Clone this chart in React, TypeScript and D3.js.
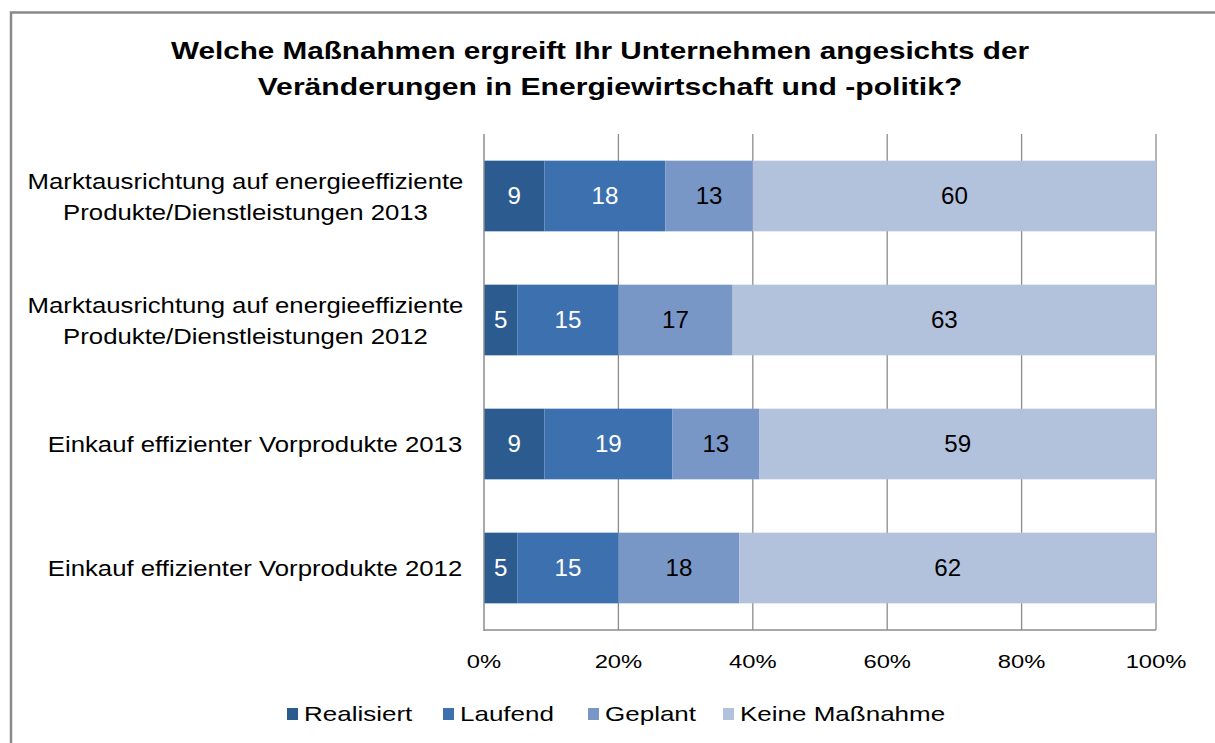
import React, { useRef, useEffect } from "react";
import * as d3 from "d3";

const categories = [
  ["Marktausrichtung auf energieeffiziente", "Produkte/Dienstleistungen 2013"],
  ["Marktausrichtung auf energieeffiziente", "Produkte/Dienstleistungen 2012"],
  ["Einkauf effizienter Vorprodukte 2013"],
  ["Einkauf effizienter Vorprodukte 2012"],
];
const seriesNames = ["Realisiert", "Laufend", "Geplant", "Keine Maßnahme"];
const realisiert = [9, 5, 9, 5];
const laufend = [18, 15, 19, 15];
const geplant = [13, 17, 13, 18];
const keine = [60, 63, 59, 62];
const ticks = [0, 20, 40, 60, 80, 100];
const colors = ["#2b5b8f", "#3d70ae", "#7897c6", "#b3c2dc"];
const labelColors = ["#fff", "#fff", "#000", "#000"];

export default function App() {
  const svgRef = useRef<SVGSVGElement>(null);

  useEffect(() => {
    const W = 1215, H = 743;
    const svg = d3.select(svgRef.current).attr("width", W).attr("height", H);
    svg.selectAll("*").remove();
    const font = "'Liberation Sans', Arial, sans-serif";

    // stretched text helper (reference text is wider than plain Arial)
    const txt = (parent: any, x: number, y: number, s: string, size: number, sx: number, anchor = "middle", fill = "#000", bold = false) =>
      parent.append("g").attr("transform", `translate(${x},${y}) scale(${sx},1)`)
        .append("text").attr("text-anchor", anchor).attr("font-family", font)
        .attr("font-size", size).attr("font-weight", bold ? "bold" : "normal")
        .attr("fill", fill).text(s);

    svg.append("rect").attr("width", W).attr("height", H).attr("fill", "#fff");
    svg.append("path").attr("d", `M11,${H + 5} V12.5 H${W + 5}`)
      .attr("fill", "none").attr("stroke", "#8a8a8a").attr("stroke-width", 2.5);

    // title
    txt(svg, 600, 59, "Welche Maßnahmen ergreift Ihr Unternehmen angesichts der", 23, 1.29, "middle", "#000", true);
    txt(svg, 610, 95, "Veränderungen in Energiewirtschaft und -politik?", 23, 1.31, "middle", "#000", true);

    const x0 = 484, x1 = 1156, y0 = 134, y1 = 630;
    const x = d3.scaleLinear().domain([0, 100]).range([x0, x1]);
    const y = d3.scaleBand().domain(categories.map((_, i) => String(i))).range([y0, y1]).paddingInner(0.43).paddingOuter(0.215);

    // gridlines
    svg.append("g").selectAll("line").data(ticks.slice(1)).join("line")
      .attr("x1", d => x(d)).attr("x2", d => x(d)).attr("y1", y0).attr("y2", y1)
      .attr("stroke", "#8c8c8c").attr("stroke-width", 1.3);

    // stacked bars
    const rows = categories.map((_, i) => ({ idx: String(i), s0: realisiert[i], s1: laufend[i], s2: geplant[i], s3: keine[i] }));
    const stack = d3.stack<any>().keys(["s0", "s1", "s2", "s3"])(rows);
    stack.forEach((layer, k) => {
      const g = svg.append("g");
      g.selectAll("rect").data(layer).join("rect")
        .attr("x", d => x(d[0])).attr("width", d => x(d[1]) - x(d[0]))
        .attr("y", d => y(d.data.idx)!).attr("height", y.bandwidth())
        .attr("fill", colors[k]);
      layer.forEach(d => {
        txt(g, (x(d[0]) + x(d[1])) / 2, y(d.data.idx)! + y.bandwidth() / 2 + 8, String(d[1] - d[0]), 23, 1.05, "middle", labelColors[k]);
      });
    });

    // axis lines
    svg.append("line").attr("x1", x0).attr("x2", x0).attr("y1", y0).attr("y2", y1 + 1).attr("stroke", "#8c8c8c").attr("stroke-width", 1.5);
    svg.append("line").attr("x1", x0).attr("x2", x1).attr("y1", y1).attr("y2", y1).attr("stroke", "#8c8c8c").attr("stroke-width", 1.5);

    // tick labels
    ticks.forEach(t => txt(svg, x(t), 668, t + "%", 19, 1.25));

    // category labels
    categories.forEach((lines, i) => {
      const cy = y(String(i))! + y.bandwidth() / 2;
      const n = lines.length;
      lines.forEach((l, j) => {
        txt(svg, n > 1 ? 245.5 : 255, cy + 8 + (j - (n - 1) / 2) * 31, l, 22, 1.17);
      });
    });

    // legend
    const legX = [287, 443, 588, 723];
    seriesNames.forEach((name, k) => {
      svg.append("rect").attr("x", legX[k]).attr("y", 708).attr("width", 11).attr("height", 12).attr("fill", colors[k]);
      txt(svg, legX[k] + 17, 721, name, 20, 1.3, "start");
    });
  }, []);

  return <svg ref={svgRef} style={{ position: "absolute", left: 0, top: 0 }}></svg>;
}
